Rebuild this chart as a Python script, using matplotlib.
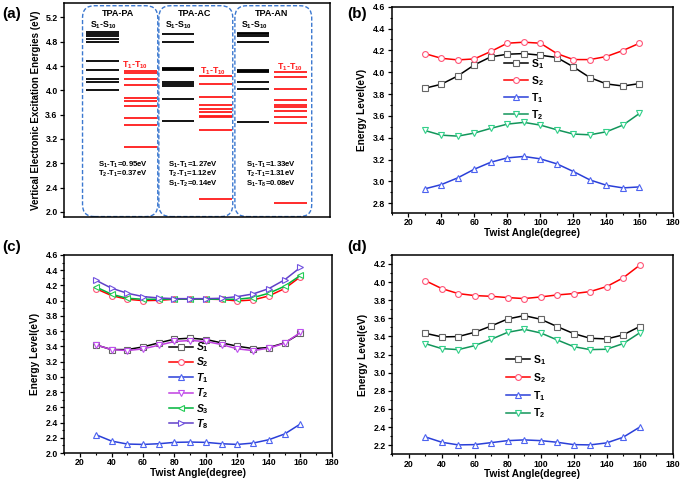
import matplotlib
matplotlib.use("Agg")
import matplotlib.pyplot as plt
from matplotlib.patches import FancyBboxPatch
from matplotlib.ticker import MultipleLocator

plt.rcParams['font.family'] = ['Liberation Sans', 'DejaVu Sans']
plt.rcParams['font.weight'] = 'bold'
plt.rcParams['mathtext.fontset'] = 'custom'
plt.rcParams['mathtext.rm'] = 'Liberation Sans:bold'
plt.rcParams['mathtext.bf'] = 'Liberation Sans:bold'
plt.rcParams['mathtext.it'] = 'Liberation Sans:bold:italic'
plt.rcParams['mathtext.sf'] = 'Liberation Sans:bold'

# ---------------- data ----------------
molecules = ['TPA-PA', 'TPA-AC', 'TPA-AN']
pa_singlets = [4.96, 4.93, 4.89, 4.85, 4.79, 4.48, 4.33, 4.18, 4.14, 4.01]
pa_triplets = [4.32, 4.28, 4.18, 4.09, 3.87, 3.83, 3.74, 3.55, 3.43, 3.06]
ac_singlets = [4.92, 4.80, 4.37, 4.35, 4.33, 4.14, 4.10, 4.07, 3.85, 3.49]
ac_triplets = [4.24, 4.11, 3.89, 3.76, 3.69, 3.65, 3.585, 3.565, 3.35, 2.22]
an_singlets = [4.95, 4.92, 4.89, 4.79, 4.34, 4.32, 4.30, 4.13, 4.02, 3.48]
an_triplets = [4.295, 4.22, 4.03, 3.845, 3.76, 3.73, 3.66, 3.555, 3.455, 2.15]
pa_notes = [r'S$_1$-T$_1$=0.95eV', r'T$_2$-T$_1$=0.37eV']
ac_notes = [r'S$_1$-T$_1$=1.27eV', r'T$_2$-T$_1$=1.12eV', r'S$_1$-T$_2$=0.14eV']
an_notes = [r'S$_1$-T$_1$=1.33eV', r'T$_2$-T$_1$=1.31eV', r'S$_1$-T$_8$=0.08eV']

angles = [30, 40, 50, 60, 70, 80, 90, 100, 110, 120, 130, 140, 150, 160]

b_S1 = [3.853, 3.890, 3.966, 4.067, 4.141, 4.165, 4.171, 4.156, 4.135, 4.049, 3.951, 3.893, 3.874, 3.896]
b_S2 = [4.171, 4.128, 4.113, 4.122, 4.190, 4.266, 4.275, 4.266, 4.171, 4.116, 4.116, 4.144, 4.199, 4.266]
b_T1 = [2.932, 2.971, 3.033, 3.112, 3.176, 3.216, 3.229, 3.207, 3.161, 3.091, 3.014, 2.965, 2.941, 2.950]
b_T2 = [3.467, 3.424, 3.415, 3.443, 3.486, 3.525, 3.541, 3.516, 3.473, 3.434, 3.427, 3.455, 3.516, 3.623]

c_S1 = [3.420, 3.358, 3.358, 3.393, 3.446, 3.495, 3.508, 3.490, 3.446, 3.402, 3.371, 3.385, 3.446, 3.569]
c_S2 = [4.158, 4.066, 4.018, 4.000, 4.004, 4.018, 4.020, 4.020, 4.015, 3.996, 4.009, 4.062, 4.158, 4.312]
c_T1 = [2.242, 2.158, 2.119, 2.114, 2.123, 2.141, 2.145, 2.141, 2.123, 2.114, 2.132, 2.176, 2.251, 2.382]
c_T2 = [3.420, 3.358, 3.345, 3.367, 3.415, 3.464, 3.477, 3.464, 3.424, 3.367, 3.345, 3.376, 3.442, 3.582]
c_S3 = [4.180, 4.084, 4.031, 4.018, 4.018, 4.020, 4.020, 4.020, 4.018, 4.018, 4.040, 4.097, 4.189, 4.330]
c_T8 = [4.268, 4.163, 4.097, 4.053, 4.035, 4.026, 4.026, 4.026, 4.031, 4.053, 4.088, 4.158, 4.273, 4.435]

d_S1 = [3.435, 3.395, 3.399, 3.446, 3.516, 3.593, 3.630, 3.590, 3.509, 3.432, 3.380, 3.373, 3.417, 3.509]
d_S2 = [4.016, 3.928, 3.873, 3.851, 3.843, 3.829, 3.818, 3.836, 3.858, 3.873, 3.895, 3.950, 4.046, 4.185]
d_T1 = [2.292, 2.233, 2.204, 2.207, 2.229, 2.251, 2.259, 2.251, 2.233, 2.207, 2.204, 2.226, 2.288, 2.399]
d_T2 = [3.321, 3.266, 3.255, 3.299, 3.369, 3.446, 3.479, 3.439, 3.362, 3.288, 3.255, 3.259, 3.321, 3.439]

# ---------------- figure ----------------
fig = plt.figure(figsize=(6.8, 4.8), dpi=100)
TICK_FS = 6.3
LAB_FS = 7.3

def style_axes(ax):
    for s in ax.spines.values():
        s.set_linewidth(1.1)
    ax.tick_params(which='major', direction='out', length=3, width=0.9, labelsize=TICK_FS, pad=1.5)
    ax.tick_params(which='minor', direction='out', length=1.6, width=0.8)
    ax.tick_params(axis='x', which='major', pad=0.8)
    for lab in ax.get_xticklabels() + ax.get_yticklabels():
        lab.set_fontweight('bold')

# ---- (a) ----
axa = fig.add_axes([0.094, 0.547, 0.391, 0.446])
axa.set_xlim(0, 1)
axa.set_ylim(1.91, 5.43)
axa.yaxis.set_major_locator(MultipleLocator(0.4))
axa.set_xticks([])
style_axes(axa)
axa.yaxis.set_minor_locator(MultipleLocator(0.4))
axa.tick_params(axis='y', which='minor', left=False, right=True, direction='in', length=3)
axa.set_ylabel('Vertical Electronic Excitation Energies (eV)', fontsize=7.0, fontweight='bold', labelpad=3)

boxes = [(0.07, 0.353), (0.357, 0.635), (0.643, 0.932)]
for x0, x1 in boxes:
    p = FancyBboxPatch((x0, 0.004), x1 - x0, 0.985,
                       boxstyle='round,pad=0,rounding_size=0.045',
                       mutation_aspect=266 / 214,
                       transform=axa.transAxes, fill=False,
                       edgecolor='#3b78d0', linestyle=(0, (3, 1.5)), linewidth=1.0)
    axa.add_patch(p)

groups = [
    (pa_singlets, pa_triplets, (0.083, 0.207), (0.226, 0.350), pa_notes),
    (ac_singlets, ac_triplets, (0.368, 0.489), (0.508, 0.632), ac_notes),
    (an_singlets, an_triplets, (0.650, 0.771), (0.789, 0.913), an_notes),
]
title_x = [0.203, 0.492, 0.78]
s_lab_x = [0.147, 0.430, 0.718]
t_lab_x = [0.267, 0.560, 0.850]
t_lab_y = [4.415, 4.32, 4.38]
note_x = [0.222, 0.485, 0.778]
for i, (sl, tl, sx, tx, notes) in enumerate(groups):
    axa.hlines(sl, sx[0], sx[1], colors='black', linewidth=1.3)
    axa.hlines(tl, tx[0], tx[1], colors='#ff1a1a', linewidth=1.3)
    axa.text(title_x[i], 5.26, molecules[i], ha='center', va='center', fontsize=6.5, fontweight='bold')
    axa.text(s_lab_x[i], 5.07, r'S$_1$-S$_{10}$', ha='center', va='center', fontsize=6.3, fontweight='bold')
    axa.text(t_lab_x[i], t_lab_y[i], r'T$_1$-T$_{10}$', ha='center', va='center', fontsize=6.3,
             fontweight='bold', color='#ff1a1a')
    for j, n in enumerate(notes):
        axa.text(note_x[i], 2.78 - j * 0.16, n, ha='center', va='center', fontsize=5.6, fontweight='bold')

# series styles: (line color, marker edge color, marker)
ST = {
    'S1': ('#000000', '#666666', 's'),
    'S2': ('#ff0000', '#ff5577', 'o'),
    'T1': ('#2a3fd8', '#4d63f0', '^'),
    'T2b': ('#12955a', '#33d08a', 'v'),
    'T2c': ('#c040e0', '#c050f0', 'v'),
    'S3': ('#00b43c', '#22cc55', '<'),
    'T8': ('#6040c8', '#7050e0', '>'),
}

def plot_series(ax, y, key, label):
    lc, mc, mk = ST[key]
    ax.plot(angles, y, color=lc, linewidth=1.1, marker=mk, markersize=4.2,
            markerfacecolor='white', markeredgecolor=mc, markeredgewidth=0.8, label=label)

def line_axes(rect, ylim, ymaj):
    ax = fig.add_axes(rect)
    ax.set_xlim(10, 180)
    ax.set_ylim(*ylim)
    ax.xaxis.set_major_locator(MultipleLocator(20))
    ax.xaxis.set_minor_locator(MultipleLocator(10))
    ax.yaxis.set_major_locator(MultipleLocator(ymaj))
    ax.yaxis.set_minor_locator(MultipleLocator(ymaj / 2))
    style_axes(ax)
    ax.set_xlabel('Twist Angle(degree)', fontsize=LAB_FS, fontweight='bold', labelpad=0.5)
    ax.set_ylabel('Energy Level(eV)', fontsize=LAB_FS, fontweight='bold', labelpad=4)
    return ax

# ---- (b) ----
axb = line_axes([0.576, 0.556, 0.413, 0.430], (2.71, 4.6), 0.2)
plot_series(axb, b_S1, 'S1', r'$\mathrm{S_1}$')
plot_series(axb, b_S2, 'S2', r'$\mathrm{S_2}$')
plot_series(axb, b_T1, 'T1', r'$\mathrm{T_1}$')
plot_series(axb, b_T2, 'T2b', r'$\mathrm{T_2}$')
axb.legend(loc='upper left', bbox_to_anchor=(0.385, 0.776), frameon=False, fontsize=7.5,
           handlelength=2.3, handletextpad=0.3, labelspacing=0.3, borderaxespad=0)

# ---- (c) ----
axc = line_axes([0.0946, 0.056, 0.3934, 0.413], (2.0, 4.6), 0.2)
plot_series(axc, c_S1, 'S1', r'$S_1$')
plot_series(axc, c_S2, 'S2', r'$S_2$')
plot_series(axc, c_T1, 'T1', r'$T_1$')
plot_series(axc, c_T2, 'T2c', r'$T_2$')
plot_series(axc, c_S3, 'S3', r'$S_3$')
plot_series(axc, c_T8, 'T8', r'$T_8$')
axc.legend(loc='upper left', bbox_to_anchor=(0.375, 0.59), frameon=False, fontsize=7.5,
           handlelength=2.3, handletextpad=0.3, labelspacing=0.15, borderaxespad=0)

# ---- (d) ----
axd = line_axes([0.577, 0.0535, 0.412, 0.4155], (2.1, 4.3), 0.2)
plot_series(axd, d_S1, 'S1', r'$\mathrm{S_1}$')
plot_series(axd, d_S2, 'S2', r'$\mathrm{S_2}$')
plot_series(axd, d_T1, 'T1', r'$\mathrm{T_1}$')
plot_series(axd, d_T2, 'T2b', r'$\mathrm{T_2}$')
axd.legend(loc='upper left', bbox_to_anchor=(0.39, 0.53), frameon=False, fontsize=7.5,
           handlelength=2.3, handletextpad=0.3, labelspacing=0.4, borderaxespad=0)

# panel labels
for lbl, x, y in [('(a)', 0.003, 0.985), ('(b)', 0.51, 0.985), ('(c)', 0.003, 0.5), ('(d)', 0.51, 0.5)]:
    fig.text(x, y, lbl, fontsize=11, fontweight='bold', va='top', ha='left')

fig.savefig('out.png', dpi=100)
